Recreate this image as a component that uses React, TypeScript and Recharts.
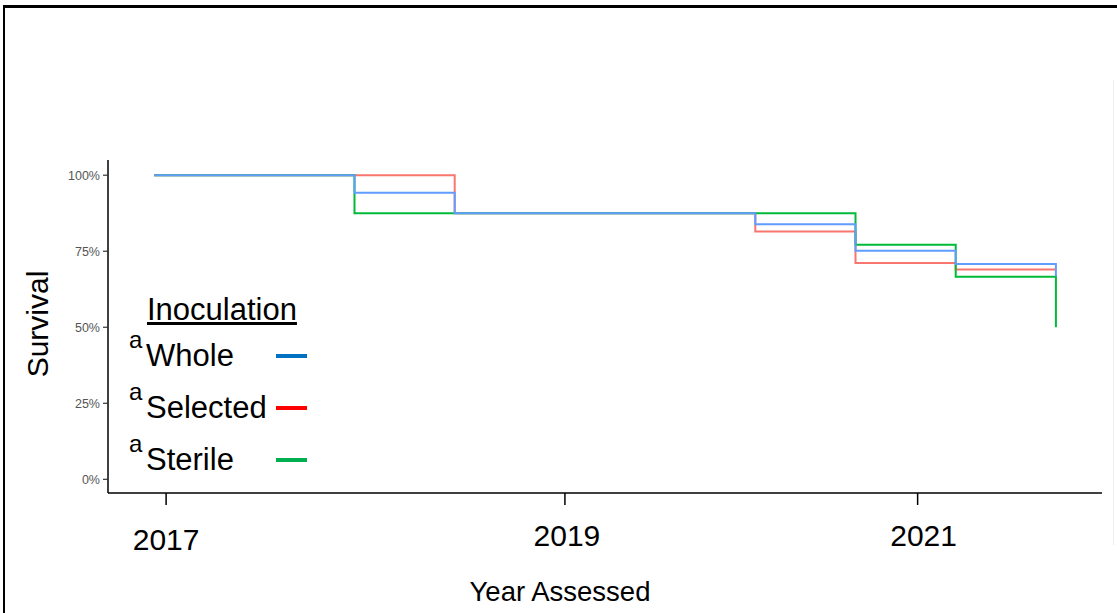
import { LineChart, Line, XAxis, YAxis } from 'recharts';

// time points (in assessment units) and survival per inoculation group
const times = [0, 2, 3, 6, 7, 8, 9];
const whole = [1, 0.942, 0.875, 0.839, 0.752, 0.708, 0.667];
const selected = [1, 1, 0.875, 0.815, 0.711, 0.69, 0.69];
const sterile = [1, 0.875, 0.875, 0.875, 0.771, 0.666, 0.5];

const yTicks = [0, 0.25, 0.5, 0.75, 1];
const xTickValues = [0.12, 4.1, 7.62];
const xTickLabels = ['2017', '2019', '2021'];

const legendNames = ['Whole', 'Selected', 'Sterile'];
const legendColors = ['#0070C0', '#FF0000', '#00B050'];

const FONT = '"Liberation Sans", Arial, sans-serif';

const data = times.map((t, i) => ({
  t,
  whole: whole[i],
  selected: selected[i],
  sterile: sterile[i],
}));

function XTick({ x, y, payload }: any) {
  const idx = xTickValues.indexOf(payload.value);
  const label = idx >= 0 ? xTickLabels[idx] : '';
  // the labels in the source figure sit slightly off their ticks
  const dx = idx === 2 ? 6 : idx === 1 ? 2 : 0;
  const dy = idx === 0 ? 4 : 0;
  return (
    <text
      x={x + dx}
      y={y + dy}
      dy="0.71em"
      textAnchor="middle"
      fontSize={30}
      fontFamily={FONT}
      fill="#000"
    >
      {label}
    </text>
  );
}

function InoculationLegend() {
  return (
    <div style={{ position: 'absolute', left: 126, top: 291, fontFamily: FONT, color: '#000' }}>
      <div style={{ marginLeft: 21, fontSize: 31, textDecoration: 'underline', lineHeight: '37px' }}>
        Inoculation
      </div>
      {legendNames.map((name, i) => (
        <div key={name} style={{ position: 'relative', height: 52, width: 190 }}>
          <span style={{ position: 'absolute', left: 3, top: -2, fontSize: 24 }}>a</span>
          <span style={{ position: 'absolute', left: 20, top: 10, fontSize: 31 }}>{name}</span>
          <span
            style={{
              position: 'absolute',
              left: 150,
              top: 26,
              width: 31,
              height: 4,
              background: legendColors[i],
            }}
          />
        </div>
      ))}
    </div>
  );
}

export default function App() {
  return (
    <div
      style={{
        position: 'absolute',
        left: 0,
        top: 0,
        width: 1117,
        height: 613,
        background: '#fff',
        overflow: 'hidden',
        fontFamily: FONT,
      }}
    >
      <div style={{ position: 'absolute', left: 3, top: 5, right: 0, height: 3, background: '#000' }} />
      <div style={{ position: 'absolute', left: 3, top: 5, width: 2, bottom: 0, background: '#000' }} />
      <div style={{ position: 'absolute', left: 1113, top: 80, width: 1, height: 465, background: '#eee' }} />

      <LineChart
        width={1117}
        height={613}
        data={data}
        margin={{ top: 160, right: 15, bottom: 60, left: 48 }}
        style={{ position: 'absolute', left: 0, top: 0 }}
      >
        <XAxis
          dataKey="t"
          type="number"
          domain={[-0.46, 9.46]}
          ticks={xTickValues}
          allowDataOverflow
          height={60}
          axisLine={{ stroke: '#000', strokeWidth: 1.5 }}
          tickLine={{ stroke: '#000', strokeWidth: 1.5 }}
          tickSize={12}
          tickMargin={20}
          tick={<XTick />}
          interval={0}
        />
        <YAxis
          type="number"
          domain={[-0.045, 1.05]}
          ticks={yTicks}
          allowDataOverflow
          width={60}
          axisLine={{ stroke: '#000', strokeWidth: 1.5 }}
          tickLine={{ stroke: '#333', strokeWidth: 1.2 }}
          tickSize={5}
          tickMargin={3}
          tick={{ fontSize: 12.5, fill: '#555', fontFamily: FONT }}
          tickFormatter={(v: number) => `${Math.round(v * 100)}%`}
          interval={0}
        />
        <Line type="stepAfter" dataKey="selected" stroke="#F8766D" strokeWidth={2} dot={false} isAnimationActive={false} />
        <Line type="stepAfter" dataKey="sterile" stroke="#00BA38" strokeWidth={2} dot={false} isAnimationActive={false} />
        <Line type="stepAfter" dataKey="whole" stroke="#619CFF" strokeWidth={2} dot={false} isAnimationActive={false} />
      </LineChart>

      <div
        style={{
          position: 'absolute',
          left: 38,
          top: 324,
          transform: 'translate(-50%, -50%) rotate(-90deg)',
          fontSize: 30,
          whiteSpace: 'nowrap',
        }}
      >
        Survival
      </div>
      <div
        style={{
          position: 'absolute',
          left: 560,
          top: 592,
          transform: 'translate(-50%, -50%)',
          fontSize: 27.5,
          whiteSpace: 'nowrap',
        }}
      >
        Year Assessed
      </div>

      <InoculationLegend />
    </div>
  );
}
